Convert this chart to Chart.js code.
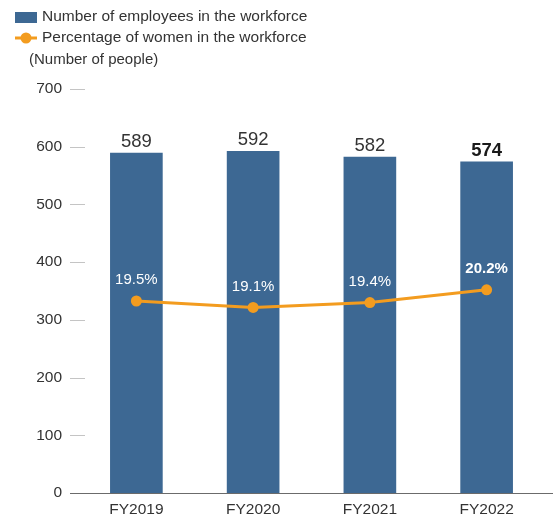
<!DOCTYPE html>
<html lang="en">
<head>
    <meta charset="UTF-8">
    <title>Workforce</title>
    <script src="https://cdn.jsdelivr.net/npm/chart.js"></script>
    <style>
        html, body { margin: 0; padding: 0; background: #fff; }
        #wrap { width: 556px; height: 520px; position: relative; }
    </style>
</head>
<body>
    <div id="wrap"><canvas id="myChart" width="556" height="520"></canvas></div>
    <script>
        // data
        var years = ['FY2019', 'FY2020', 'FY2021', 'FY2022'];
        var employees = [589, 592, 582, 574];
        var womenPct = [19.5, 19.1, 19.4, 20.2];
        var yTicks = [0, 100, 200, 300, 400, 500, 600, 700];

        var FONT = '"Liberation Sans", Arial, Helvetica, sans-serif';
        var BLUE = '#3d6893';
        var ORANGE = '#f39c1f';

        // legend, unit note, tick dashes, baseline and value labels
        var decorPlugin = {
            id: 'decor',
            afterDraw: function (chart) {
                var ctx = chart.ctx;
                var area = chart.chartArea;
                var y = chart.scales.y;
                ctx.save();

                // short tick dashes next to the y labels
                ctx.strokeStyle = '#c4c4c4';
                ctx.lineWidth = 1;
                yTicks.forEach(function (v) {
                    if (v === 0) return;
                    var py = Math.round(y.getPixelForValue(v)) + 0.5;
                    ctx.beginPath();
                    ctx.moveTo(70, py);
                    ctx.lineTo(85, py);
                    ctx.stroke();
                });
                // baseline
                var by = Math.round(y.getPixelForValue(0)) + 0.5;
                ctx.strokeStyle = '#6b6b6b';
                ctx.beginPath();
                ctx.moveTo(70, by);
                ctx.lineTo(553, by);
                ctx.stroke();

                // legend
                var ds = chart.data.datasets;
                ctx.fillStyle = ds[0].backgroundColor;
                ctx.fillRect(15, 12, 22, 11);
                ctx.strokeStyle = ds[1].borderColor;
                ctx.lineWidth = 3;
                ctx.beginPath();
                ctx.moveTo(15, 38);
                ctx.lineTo(37, 38);
                ctx.stroke();
                ctx.fillStyle = ds[1].borderColor;
                ctx.beginPath();
                ctx.arc(26, 38, 5.5, 0, Math.PI * 2);
                ctx.fill();

                ctx.font = '15.5px ' + FONT;
                ctx.fillStyle = '#333';
                ctx.textAlign = 'left';
                ctx.textBaseline = 'middle';
                ctx.fillText(ds[0].label, 42, 17);
                ctx.fillText(ds[1].label, 42, 38);
                ctx.font = '15px ' + FONT;
                ctx.fillText('(Number of people)', 29, 60);

                // bar values
                var last = employees.length - 1;
                ctx.textAlign = 'center';
                ctx.textBaseline = 'alphabetic';
                chart.getDatasetMeta(0).data.forEach(function (bar, i) {
                    ctx.font = (i === last ? 'bold ' : '') + '18.5px ' + FONT;
                    ctx.fillStyle = i === last ? '#1a1a1a' : '#333';
                    ctx.fillText(String(employees[i]), bar.x, bar.y - 6);
                });

                // percentage labels
                ctx.textBaseline = 'middle';
                chart.getDatasetMeta(1).data.forEach(function (pt, i) {
                    ctx.font = (i === last ? 'bold ' : '') + '15px ' + FONT;
                    ctx.fillStyle = '#ffffff';
                    ctx.fillText(womenPct[i].toFixed(1) + '%', pt.x, pt.y - 21);
                });
                ctx.restore();
            }
        };

        var ctx = document.getElementById('myChart').getContext('2d');
        var myChart = new Chart(ctx, {
            data: {
                labels: years,
                datasets: [{
                    type: 'bar',
                    label: 'Number of employees in the workforce',
                    data: employees,
                    backgroundColor: BLUE,
                    barThickness: 52,
                    yAxisID: 'y',
                    order: 2
                }, {
                    type: 'line',
                    label: 'Percentage of women in the workforce',
                    data: womenPct,
                    borderColor: ORANGE,
                    backgroundColor: ORANGE,
                    borderWidth: 3,
                    pointRadius: 5.5,
                    pointBorderWidth: 0,
                    tension: 0,
                    yAxisID: 'y2',
                    order: 1
                }]
            },
            options: {
                responsive: false,
                animation: false,
                events: [],
                layout: { padding: { top: 89, right: 11, bottom: 0, left: 0 } },
                plugins: {
                    legend: { display: false },
                    tooltip: { enabled: false }
                },
                scales: {
                    x: {
                        grid: { display: false, drawTicks: false },
                        border: { display: false },
                        ticks: {
                            color: '#333',
                            font: { family: FONT, size: 15.5 },
                            padding: 7
                        },
                        afterFit: function (s) { s.height = 27; }
                    },
                    y: {
                        min: 0,
                        max: 700,
                        afterBuildTicks: function (s) {
                            s.ticks = yTicks.map(function (v) { return { value: v }; });
                        },
                        grid: { display: false, drawTicks: false },
                        border: { display: false },
                        ticks: {
                            color: '#333',
                            font: { family: FONT, size: 15.5 },
                            padding: 16
                        },
                        afterFit: function (s) { s.width = 78; }
                    },
                    y2: {
                        display: false,
                        min: 7.5,
                        max: 32.75
                    }
                }
            },
            plugins: [decorPlugin]
        });
    </script>
</body>
</html>
